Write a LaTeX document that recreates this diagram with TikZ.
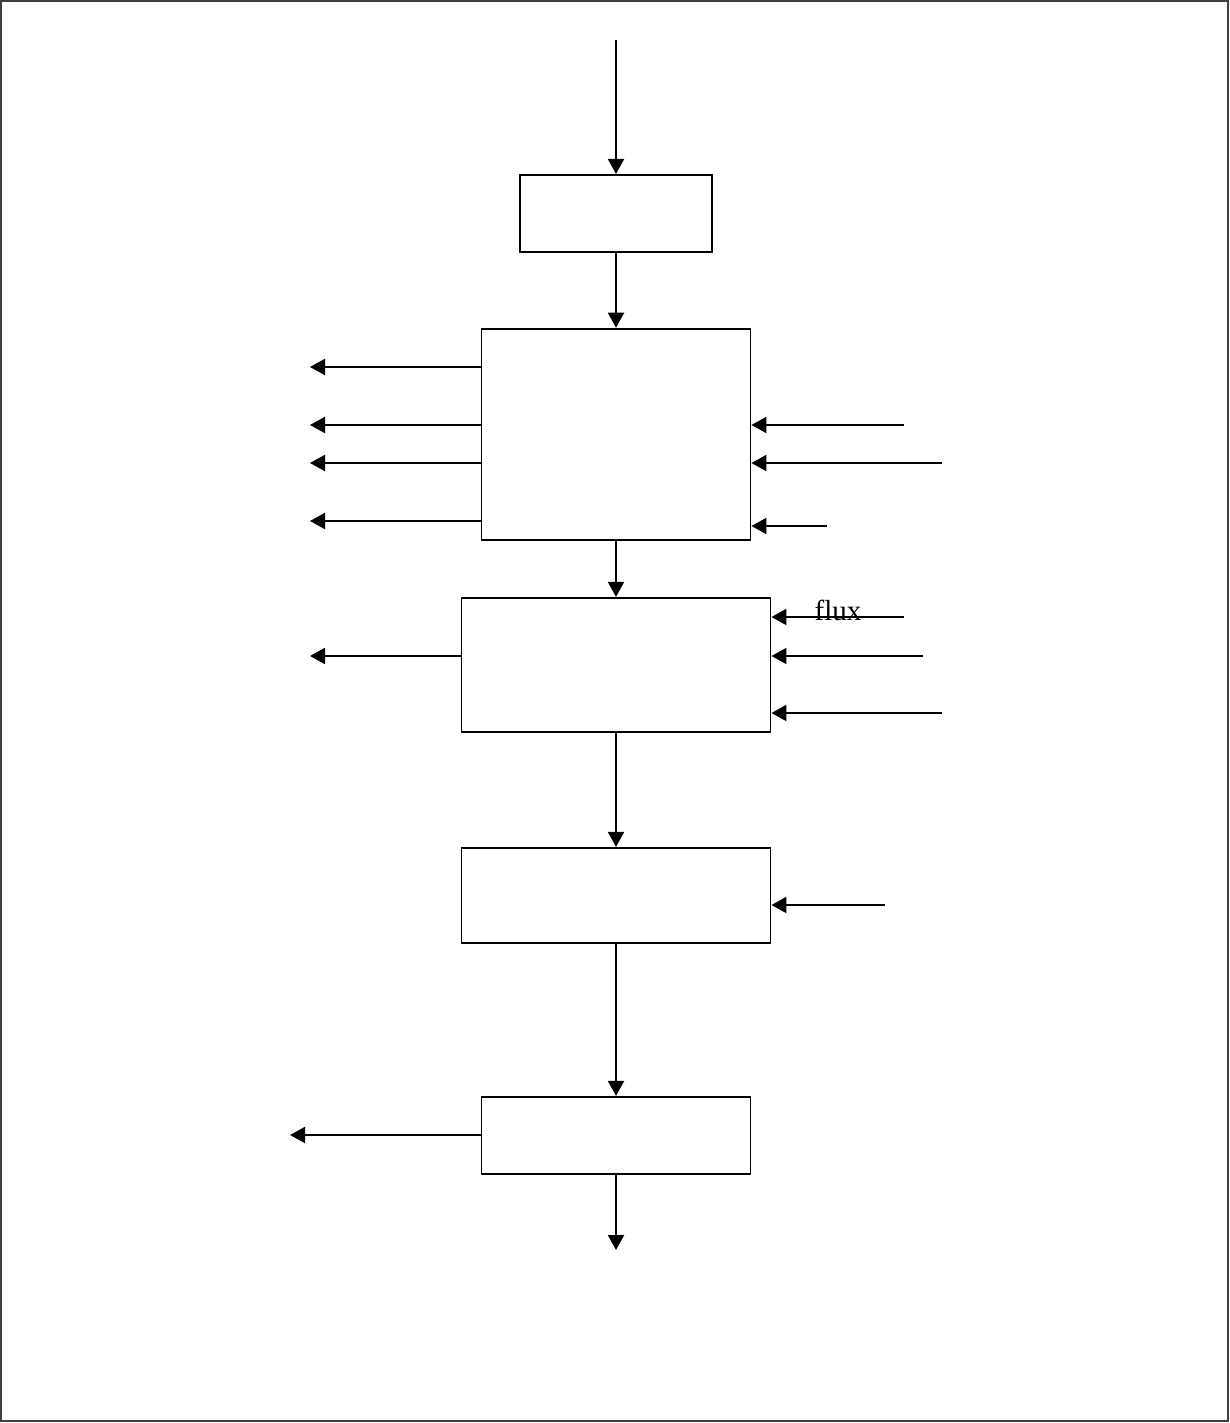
\documentclass[tikz,border=0pt]{standalone}
\usepackage{fontspec}
\setmainfont{Liberation Serif}
\usepackage{tikz}
\usetikzlibrary{arrows.meta,positioning}

\begin{document}
\begin{tikzpicture}[
    x=0.5pt, y=-0.5pt,
    every node/.style={
        draw, line width=0.9pt,
        inner sep=0pt
    },
    blk/.style={rectangle, minimum width=#1},
    flow/.style={line width=1pt, -{Triangle[length=7.5pt,width=8pt]}}
]
\useasboundingbox (0,0) rectangle (1230,1423);
\draw[line width=1pt, black!75] (1,1) rectangle (1228,1421);

% blocks
\node[blk=96bp, minimum height=38.5bp] (b1) at (616,213.5) {};
\node[blk=134bp, minimum height=105.5bp] (b2) at (616,434.5) {};
\node[blk=154bp, minimum height=67bp] (b3) at (616,665) {};
\node[blk=154bp, minimum height=47.5bp] (b4) at (616,895.5) {};
\node[blk=134bp, minimum height=38.5bp] (b5) at (616,1135.5) {};

% free ends
\coordinate (in) at (616,40);
\coordinate (out) at (616,1250);
\coordinate (l1) at (310,367);
\coordinate (l2) at (310,425);
\coordinate (l3) at (310,463);
\coordinate (l4) at (310,521);
\coordinate (r1) at (904,425);
\coordinate (r2) at (942,463);
\coordinate (r3) at (827,526);
\coordinate (l5) at (310,656);
\coordinate (r4) at (904,617);
\coordinate (r5) at (923,656);
\coordinate (r6) at (942,713);
\coordinate (r7) at (885,905);
\coordinate (l6) at (290,1135);

% main line
\draw[flow] (in) -- (b1);
\draw[flow] (b1) -- (b2);
\draw[flow] (b2) -- (b3);
\draw[flow] (b3) -- (b4);
\draw[flow] (b4) -- (b5);
\draw[flow] (b5) -- (out);

% side arrows
\foreach \c in {l1,l2,l3,l4}
  \draw[flow] (b2.west |- \c) -- (\c);
\foreach \c in {r1,r2,r3}
  \draw[flow] (\c) -- (b2.east |- \c);
\draw[flow] (b3.west |- l5) -- (l5);
\foreach \c in {r4,r5,r6}
  \draw[flow] (\c) -- (b3.east |- \c);
\draw[flow] (r7) -- (b4.east |- r7);
\draw[flow] (b5.west |- l6) -- (l6);

\node[draw=none, font=\fontsize{14.5}{16}\selectfont] (flux) at (838,610) {flux};
\end{tikzpicture}
\end{document}
